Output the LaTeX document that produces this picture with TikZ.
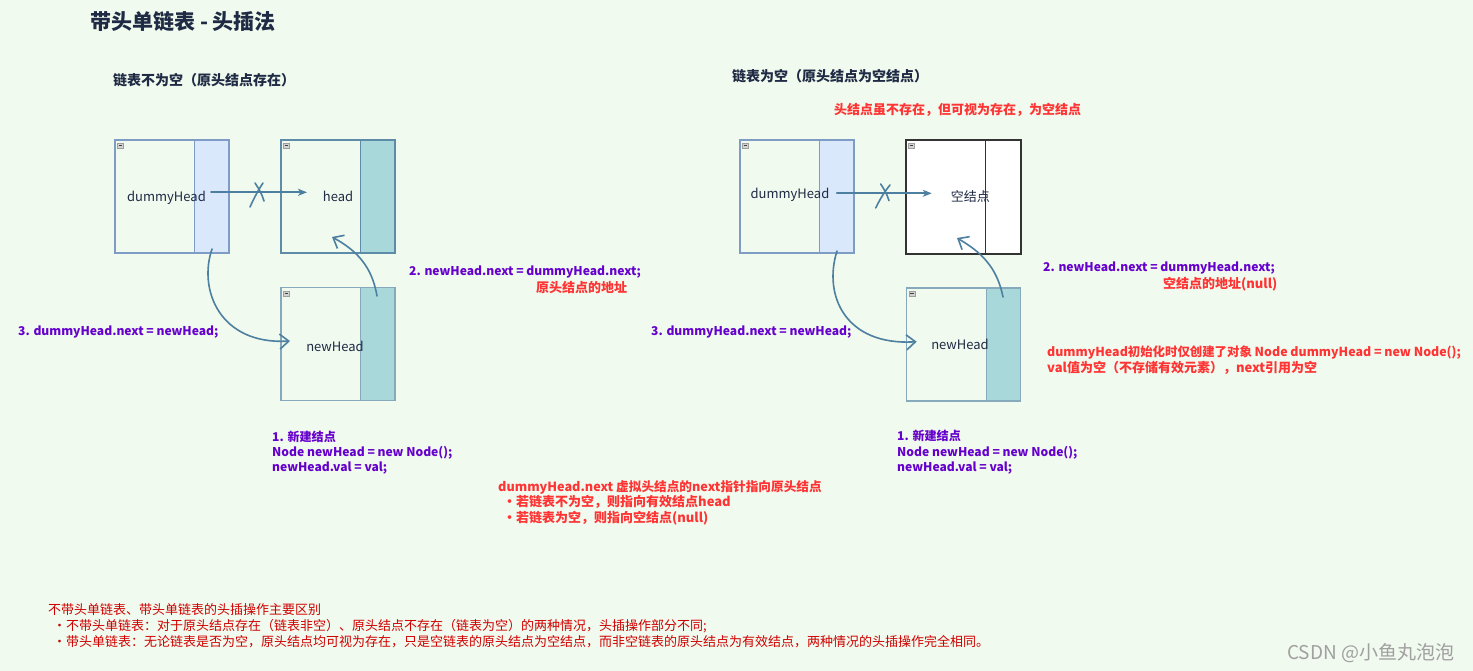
\documentclass[tikz,border=0pt]{standalone}
\usepackage{fontspec}
\setmainfont{Noto Sans CJK SC}
\usetikzlibrary{arrows.meta,calc}
\definecolor{bg}{HTML}{F0FAEE}
\definecolor{bluef}{HTML}{DAE8FC}
\definecolor{blueb}{HTML}{7E9CC4}
\definecolor{tealf}{HTML}{A8D8DA}
\definecolor{tealb}{HTML}{5E8CA8}
\definecolor{tealb2}{HTML}{86AABB}
\definecolor{darkb}{HTML}{333333}
\definecolor{arr}{HTML}{4D7FA0}
\definecolor{ntc}{HTML}{1F2A44}
\definecolor{purp}{HTML}{6600CC}
\definecolor{redc}{HTML}{FF3333}
\definecolor{dred}{HTML}{D00000}
\definecolor{wm}{HTML}{A0A0A0}
\newcommand\minibox[1]{%
  \filldraw[fill=gray!35,draw=gray!75,line width=0.5pt] ($(#1.north west)+(3,4)$) rectangle ++(6,5);
  \draw[line width=0.9pt,black!75] ($(#1.north west)+(4.3,6.5)$) -- ++(3.4,0);}
\begin{document}
\begin{tikzpicture}[x=1pt,y=-1pt,
  nodebox/.style n args={2}{draw=#2, line width=1.2pt, minimum width=114pt, minimum height=113pt, inner sep=0pt,
     path picture={\fill[#1] ([xshift=-35pt]path picture bounding box.north east) rectangle (path picture bounding box.south east);}},
  ntext/.style={font=\fontsize{13}{15}\selectfont, text=ntc, inner sep=0pt, anchor=base},
  lbl/.style={font=\fontsize{12.1}{15}\selectfont\bfseries, text=purp, inner sep=0pt, anchor=base west},
  redl/.style={font=\fontsize{13}{15}\selectfont\bfseries, text=redc, inner sep=0pt, anchor=base west},
  sub/.style={font=\fontsize{14}{16}\selectfont\bfseries, text=ntc, inner sep=0pt, anchor=base west},
  btm/.style={font=\fontsize{13}{15}\selectfont, text=dred, inner sep=0pt, anchor=base west},
  conn/.style={draw=arr, line width=1.6pt, line cap=round},
  barb/.style={-{Straight Barb[length=9pt,width=15pt,line width=1.6pt]}},
  sharp/.style={-{Stealth[length=9pt,width=7pt,inset=2.5pt]}},
  xmark/.style={draw=arr, line width=1.6pt, line cap=round}]
\path[use as bounding box, fill=bg] (0,0) rectangle (1473,671);

% title and subtitles
\node[font=\fontsize{21}{24}\selectfont\bfseries, text=ntc, inner sep=0pt, anchor=base west] (title) at (90,29.8) {带头单链表 - 头插法};
\node[sub] (subL) at (113,85.2) {链表不为空（原头结点存在）};
\node[sub] (subR) at (732,81.2) {链表为空（原头结点为空结点）};

% ---------- left case ----------
\node[nodebox={bluef}{blueb}] (dh1) at (172,196.5) {};
\node[nodebox={tealf}{tealb}] (hd1) at (338,196.5) {};
\node[nodebox={tealf}{tealb2}] (nh1) at (338,344) {};
\foreach \n/\c in {dh1/blueb,hd1/tealb,nh1/tealb2}{
  \draw[\c, line width=1.2pt] ([xshift=-35pt]\n.north east) -- ([xshift=-35pt]\n.south east);
  \minibox{\n}
}
\node[ntext] (dh1t) at (166.5,202) {dummyHead};
\node[ntext] (hd1t) at (338,201.5) {head};
\node[ntext] (nh1t) at (335,351.5) {newHead};

\coordinate (a1s) at (211,192.3);
\coordinate (a1e) at (307,192.3);
\draw[conn, sharp] (a1s) -- (a1e);
\draw[xmark] (250,207) .. controls (255,196) and (259,189) .. (263,183);
\draw[xmark] (255,183) .. controls (259,189) and (262,194) .. (264,201);

\coordinate (c3s) at (212,249);
\coordinate (c3e) at (290,341);
\draw[conn, barb] (c3s) .. controls (198,290) and (220,345) .. (c3e);
\coordinate (c2s) at (377,296);
\coordinate (c2e) at (332,237);
\draw[conn, barb] (c2s) .. controls (372,266) and (356,250) .. (c2e);

\node[lbl] (l2) at (409,276) {2. newHead.next = dummyHead.next;};
\node[redl] (l2r) at (536,292) {原头结点的地址};
\node[lbl] (l3) at (18,335) {3. dummyHead.next = newHead;};
\node[lbl] (l1a) at (272,441) {1. 新建结点};
\node[lbl] (l1b) at (272,456) {Node newHead = new Node();};
\node[lbl] (l1c) at (272,471) {newHead.val = val;};

% middle note
\node[redl, font=\fontsize{12.65}{15}\selectfont\bfseries] (m1) at (498,491) {dummyHead.next 虚拟头结点的next指针指向原头结点};
\node[redl] (m2) at (503,506) {·若链表不为空，则指向有效结点head};
\node[redl] (m3) at (503,522) {·若链表为空，则指向空结点(null)};

% ---------- right case ----------
\node[redl] (rtop) at (834,115) {头结点虽不存在，但可视为存在，为空结点};
\node[nodebox={bluef}{blueb}] (dh2) at (797,196.5) {};
\node[draw=darkb, line width=1.3pt, fill=white, minimum width=115pt, minimum height=114pt, inner sep=0pt] (em2) at (963.5,197) {};
\node[nodebox={tealf}{tealb2}] (nh2) at (963.5,344.5) {};
\draw[blueb, line width=1.2pt] ([xshift=-35pt]dh2.north east) -- ([xshift=-35pt]dh2.south east);
\draw[darkb, line width=1.2pt] ([xshift=-36pt]em2.north east) -- ([xshift=-36pt]em2.south east);
\draw[tealb2, line width=1.2pt] ([xshift=-35pt]nh2.north east) -- ([xshift=-35pt]nh2.south east);
\minibox{dh2}
\minibox{em2}
\minibox{nh2}
\node[ntext] (dh2t) at (790,199) {dummyHead};
\node[ntext] (em2t) at (970.3,201.5) {空结点};
\node[ntext] (nh2t) at (960,349) {newHead};

\coordinate (b1s) at (836.7,193.3);
\coordinate (b1e) at (931.7,193.3);
\draw[conn, sharp] (b1s) -- (b1e);
\draw[xmark] (875.7,208) .. controls (880,199) and (885,191) .. (890,185);
\draw[xmark] (880.7,184) .. controls (884,189) and (887,194) .. (889,200.7);

\coordinate (d3s) at (837,251);
\coordinate (d3e) at (916.7,341.7);
\draw[conn, barb] (d3s) .. controls (823,295) and (845,346) .. (d3e);
\coordinate (d2s) at (1003,297);
\coordinate (d2e) at (957,238);
\draw[conn, barb] (d2s) .. controls (997,267) and (981,252) .. (d2e);

\node[lbl] (r2) at (1043,272) {2. newHead.next = dummyHead.next;};
\node[redl] (r2r) at (1163,288) {空结点的地址(null)};
\node[lbl] (r3) at (651,335) {3. dummyHead.next = newHead;};
\node[redl, font=\fontsize{12.4}{15}\selectfont\bfseries] (rr1) at (1047,356) {dummyHead初始化时仅创建了对象 Node dummyHead = new Node();};
\node[redl] (rr2) at (1047,372) {val值为空（不存储有效元素），next引用为空};
\node[lbl] (r1a) at (897,440) {1. 新建结点};
\node[lbl] (r1b) at (897,456) {Node newHead = new Node();};
\node[lbl] (r1c) at (897,471) {newHead.val = val;};

% bottom
\node[btm] (b1) at (48,614) {不带头单链表、带头单链表的头插操作主要区别};
\node[btm] (b2) at (53,630) {·不带头单链表：对于原头结点存在（链表非空）、原头结点不存在（链表为空）的两种情况，头插操作部分不同;};
\node[btm] (b3) at (53,646) {·带头单链表：无论链表是否为空，原头结点均可视为存在，只是空链表的原头结点为空结点，而非空链表的原头结点为有效结点，两种情况的头插操作完全相同。};

\node[font=\fontsize{19}{22}\selectfont, text=wm, inner sep=0pt, anchor=base west] (wmk) at (1287,659) {CSDN @小鱼丸泡泡};
\end{tikzpicture}
\end{document}
